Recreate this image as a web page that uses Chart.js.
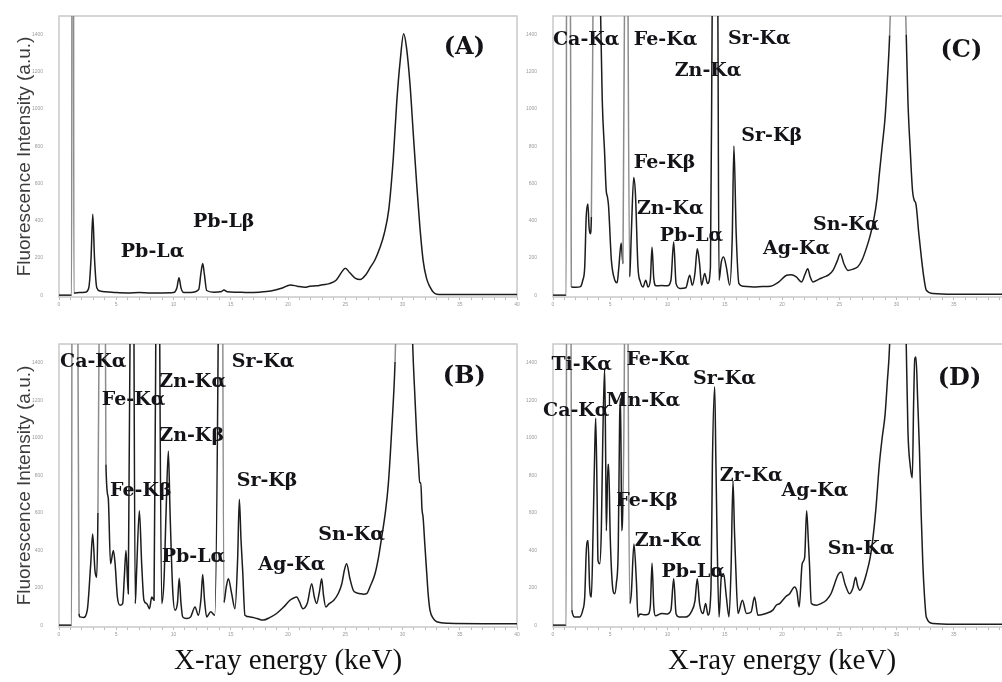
<!DOCTYPE html>
<html>
<head>
<meta charset="utf-8">
<script src="https://cdn.jsdelivr.net/npm/chart.js@4.4.1/dist/chart.umd.min.js"></script>
<style>
  html, body { margin: 0; padding: 0; background: #fff; width: 1002px; height: 682px; overflow: hidden; position: relative; }
  canvas { position: absolute; }
</style>
</head>
<body>
<canvas id="panelA" width="525" height="306" style="left:0;top:5px"></canvas>
<canvas id="panelB" width="525" height="349" style="left:0;top:333px"></canvas>
<canvas id="panelC" width="506" height="306" style="left:513px;top:5px"></canvas>
<canvas id="panelD" width="506" height="349" style="left:513px;top:333px"></canvas>
<script>
// spectra: [energy keV, intensity a.u.]; values above 1500 are off-scale peaks
const spectrumA = [
  [0, 0], [1.1, 0], [1.15, 3000], [1.25, 3000], [1.3, 12], [1.8, 14], [2.3, 16], [2.6, 40], [2.8, 200], [2.95, 435],
  [3.1, 200], [3.3, 40], [3.6, 22], [4.0, 18], [5.0, 14], [6.0, 12], [7.0, 14], [8.0, 12], [9.0, 12], [10.0, 14],
  [10.3, 40], [10.48, 94], [10.65, 40], [10.9, 14], [11.5, 14], [12.2, 30], [12.4, 120], [12.55, 170], [12.7, 110], [12.9, 25],
  [13.5, 16], [14.2, 20], [14.4, 28], [14.7, 18], [15.5, 16], [16.5, 14], [17.5, 16], [18.5, 22], [19.5, 38], [20.2, 55],
  [20.8, 48], [21.5, 42], [21.9, 48], [22.5, 50], [23.0, 56], [23.6, 62], [24.2, 80], [24.7, 125], [25.0, 145], [25.4, 120],
  [25.9, 90], [26.3, 84], [26.8, 110], [27.2, 150], [27.6, 190], [28.0, 250], [28.4, 330], [28.8, 460], [29.2, 740], [29.5, 1040],
  [29.8, 1260], [30.1, 1405], [30.35, 1330], [30.66, 1130], [30.95, 860], [31.24, 596], [31.5, 380], [31.8, 187], [32.1, 90], [32.4, 44],
  [32.7, 15], [33.0, 5], [34, 3], [36, 3], [38, 3], [40, 3]
];
const spectrumB = [
  [0, 0], [1.1, 0], [1.15, 3000], [1.55, 3000], [1.75, 60], [1.83, 44], [2.13, 41], [2.47, 80], [2.77, 327], [2.94, 486],
  [3.14, 292], [3.29, 256], [3.4, 600], [3.55, 2000], [3.7, 4000], [4.0, 2500], [4.1, 857], [4.3, 680], [4.5, 327], [4.75, 398],
  [4.9, 327], [5.1, 150], [5.33, 106], [5.56, 115], [5.7, 250], [5.85, 398], [6.05, 168], [6.2, 1500], [6.4, 5000], [6.55, 1500],
  [6.66, 115], [6.78, 292], [7.02, 610], [7.22, 327], [7.42, 133], [7.66, 115], [7.9, 88], [8.1, 150], [8.3, 133], [8.45, 1500],
  [8.63, 4500], [8.8, 1500], [8.97, 115], [9.17, 238], [9.35, 600], [9.55, 928], [9.7, 600], [9.93, 186], [10.13, 80], [10.35, 120],
  [10.5, 250], [10.65, 120], [10.8, 44], [11.15, 35], [11.5, 44], [11.88, 97], [12.17, 53], [12.4, 140], [12.55, 270], [12.7, 140],
  [12.9, 44], [13.25, 71], [13.6, 53], [13.9, 1500], [14.15, 4500], [14.4, 120], [14.6, 200], [14.79, 247], [15.08, 168], [15.37, 88],
  [15.6, 350], [15.75, 671], [15.9, 450], [16.04, 292], [16.24, 53], [16.68, 44], [17.3, 35], [17.84, 27], [18.4, 40], [19.0, 62],
  [19.6, 95], [20.17, 133], [20.5, 145], [20.76, 150], [21.0, 125], [21.3, 88], [21.7, 120], [22.07, 221], [22.3, 150], [22.5, 115],
  [22.75, 180], [22.94, 247], [23.1, 160], [23.3, 97], [23.6, 115], [24.0, 133], [24.4, 170], [24.7, 221], [24.95, 300], [25.12, 327],
  [25.4, 250], [25.7, 186], [26.0, 172], [26.29, 168], [26.6, 165], [26.87, 168], [27.2, 210], [27.6, 274], [27.9, 360], [28.18, 468],
  [28.5, 600], [28.76, 751], [29.05, 1034], [29.35, 1405], [29.6, 2000], [30.1, 3000], [30.7, 2000], [30.89, 1500], [31.09, 1210], [31.25, 1000],
  [31.4, 857], [31.5, 760], [31.6, 760], [31.7, 620], [31.8, 574], [31.95, 430], [32.1, 292], [32.25, 160], [32.4, 80], [32.7, 35],
  [33.0, 18], [34, 10], [37, 8], [40, 8]
];
const spectrumC = [
  [0, 0], [1.15, 0], [1.2, 3000], [1.45, 3000], [1.6, 44], [2.0, 42], [2.4, 46], [2.6, 80], [2.77, 151], [2.9, 420],
  [3.05, 490], [3.15, 365], [3.26, 330], [3.35, 420], [3.5, 1600], [3.7, 3500], [4.0, 2500], [4.16, 1500], [4.3, 1050], [4.5, 774],
  [4.65, 560], [4.75, 530], [4.85, 480], [5.1, 187], [5.4, 80], [5.6, 66], [5.75, 150], [5.95, 280], [6.11, 169], [6.25, 1600],
  [6.4, 5000], [6.55, 1600], [6.7, 98], [6.84, 330], [7.05, 632], [7.2, 543], [7.42, 151], [7.63, 71], [7.86, 44], [8.1, 80],
  [8.3, 44], [8.5, 80], [8.65, 258], [8.8, 90], [9.0, 50], [9.5, 52], [10.0, 50], [10.3, 80], [10.54, 285], [10.75, 62],
  [11.1, 36], [11.6, 40], [11.94, 107], [12.17, 53], [12.4, 120], [12.6, 249], [12.8, 169], [12.98, 53], [13.25, 116], [13.5, 62],
  [13.75, 150], [13.9, 1500], [14.15, 4000], [14.4, 1500], [14.5, 80], [14.7, 178], [14.9, 205], [15.14, 151], [15.43, 53], [15.65, 300],
  [15.8, 801], [16.0, 329], [16.24, 62], [16.6, 48], [17.5, 44], [18.3, 46], [19.0, 48], [19.7, 70], [20.4, 107], [20.8, 110],
  [21.25, 98], [21.7, 71], [22.0, 110], [22.25, 142], [22.45, 100], [22.7, 71], [23.2, 85], [23.7, 98], [24.1, 110], [24.45, 133],
  [24.8, 180], [25.1, 222], [25.4, 170], [25.76, 133], [26.2, 140], [26.6, 151], [27.0, 190], [27.4, 258], [27.7, 320], [28.0, 400],
  [28.3, 520], [28.5, 650], [28.75, 800], [29.0, 952], [29.2, 1150], [29.4, 1397], [29.7, 2000], [30.2, 3000], [30.6, 2000], [30.85, 1400],
  [31.0, 1041], [31.2, 780], [31.4, 561], [31.55, 510], [31.7, 489], [31.95, 330], [32.2, 187], [32.4, 90], [32.6, 27], [33.2, 9],
  [35, 5], [40, 5]
];
const spectrumD = [
  [0, 0], [1.15, 0], [1.2, 3000], [1.5, 3000], [1.65, 80], [1.89, 44], [2.33, 44], [2.6, 80], [2.77, 150], [2.91, 398],
  [3.06, 451], [3.2, 203], [3.35, 150], [3.5, 500], [3.65, 950], [3.73, 1104], [3.85, 700], [3.93, 345], [4.08, 327], [4.22, 504],
  [4.35, 1000], [4.51, 1369], [4.6, 900], [4.66, 504], [4.8, 857], [4.86, 857], [5.0, 468], [5.24, 186], [5.39, 168], [5.53, 221],
  [5.7, 415], [5.82, 1100], [5.9, 1210], [6.0, 504], [6.11, 680], [6.25, 1600], [6.4, 5000], [6.55, 1600], [6.7, 115], [6.84, 168],
  [7.07, 433], [7.28, 238], [7.42, 44], [7.6, 60], [8.0, 55], [8.3, 58], [8.5, 100], [8.65, 330], [8.8, 100], [8.95, 50],
  [9.5, 62], [10.0, 60], [10.3, 80], [10.54, 247], [10.75, 60], [11.0, 44], [11.6, 44], [12.08, 71], [12.4, 130], [12.6, 247],
  [12.8, 115], [13.1, 62], [13.33, 115], [13.54, 53], [13.8, 200], [13.92, 857], [14.12, 1272], [14.22, 900], [14.32, 504], [14.5, 44],
  [14.7, 256], [14.9, 274], [15.14, 150], [15.37, 44], [15.55, 300], [15.72, 769], [15.85, 500], [15.95, 327], [16.16, 62], [16.54, 133],
  [16.9, 62], [17.3, 70], [17.6, 150], [17.9, 53], [18.6, 62], [19.2, 80], [19.5, 106], [19.8, 115], [20.3, 150], [20.67, 168],
  [21.1, 203], [21.3, 180], [21.5, 97], [21.76, 327], [21.98, 362], [22.15, 610], [22.3, 450], [22.4, 327], [22.56, 115], [23.0, 106],
  [23.4, 115], [23.87, 133], [24.3, 170], [24.6, 221], [24.9, 270], [25.18, 283], [25.5, 220], [25.9, 168], [26.2, 200], [26.43, 256],
  [26.6, 210], [26.8, 186], [27.1, 220], [27.37, 274], [27.7, 360], [27.95, 468], [28.2, 620], [28.5, 857], [28.75, 1000], [29.0, 1122],
  [29.2, 1300], [29.4, 1500], [29.8, 2500], [30.3, 3000], [30.7, 2000], [30.85, 1500], [31.0, 1034], [31.2, 850], [31.38, 786], [31.5, 1200],
  [31.6, 1422], [31.7, 1430], [31.85, 1200], [32.0, 945], [32.15, 600], [32.3, 327], [32.45, 150], [32.6, 44], [33.2, 9], [35, 5],
  [40, 5]
];

// peak tags: [text, keV at left edge, a.u. at vertical middle]
const tagsA = [['Pb-Lα', 5.4, 230], ['Pb-Lβ', 11.7, 391]];
const tagsB = [['Ca-Kα', 0.09, 1405], ['Sr-Kα', 15.08, 1405], ['Zn-Kα', 8.76, 1299], ['Fe-Kα', 3.73, 1202], ['Zn-Kβ', 8.76, 1007],
  ['Fe-Kβ', 4.45, 716], ['Sr-Kβ', 15.52, 769], ['Pb-Lα', 8.97, 362], ['Ag-Kα', 17.4, 323], ['Sn-Kα', 22.65, 483]];
const tagsC = [['Ca-Kα', 0.0, 1370], ['Fe-Kα', 7.05, 1370], ['Sr-Kα', 15.28, 1375], ['Zn-Kα', 10.63, 1206], ['Fe-Kβ', 7.05, 712],
  ['Sr-Kβ', 16.45, 854], ['Zn-Kα', 7.33, 465], ['Pb-Lα', 9.32, 320], ['Ag-Kα', 18.34, 249], ['Sn-Kα', 22.7, 374]];
const tagsD = [['Ti-Kα', -0.14, 1388], ['Fe-Kα', 6.41, 1414], ['Sr-Kα', 12.23, 1312], ['Mn-Kα', 4.66, 1193], ['Ca-Kα', -0.87, 1140],
  ['Zr-Kα', 14.56, 795], ['Ag-Kα', 19.95, 716], ['Fe-Kβ', 5.53, 663], ['Zn-Kα', 7.13, 446], ['Pb-Lα', 9.47, 283], ['Sn-Kα', 24.0, 407]];

const yTicks = [0, 200, 400, 600, 800, 1000, 1200, 1400];
const xTickLabels = [0, 5, 10, 15, 20, 25, 30, 35, 40];
const Y_MAX = 1500;

const lineColor = '#1c1c1c';
const offScaleColor = '#8c8c8c';
const frameColor = '#c9c9c9';
const tickColor = '#9a9a9a';

Chart.defaults.font.family = "'Liberation Sans', Arial, sans-serif";

const framePlugin = {
  id: 'frame',
  beforeDatasetsDraw(chart) {
    const { ctx, chartArea: a } = chart;
    ctx.save();
    ctx.strokeStyle = frameColor;
    ctx.lineWidth = 1.5;
    ctx.strokeRect(a.left, a.top, a.right - a.left, a.bottom - a.top);
    ctx.restore();
  },
};

const tagPlugin = {
  id: 'peakTags',
  afterDatasetsDraw(chart, args, opts) {
    const { ctx, scales: { x, y } } = chart;
    ctx.save();
    ctx.fillStyle = '#141418';
    ctx.textBaseline = 'middle';
    ctx.textAlign = 'left';
    ctx.font = "bold 19px 'DejaVu Serif'";
    (opts.tags || []).forEach(([t, e, v]) => ctx.fillText(t, x.getPixelForValue(e), y.getPixelForValue(v)));
    if (opts.panel) {
      const [t, e, v] = opts.panel;
      ctx.font = "bold 24px 'DejaVu Serif'";
      ctx.textAlign = 'center';
      ctx.fillText(t, x.getPixelForValue(e), y.getPixelForValue(v));
    }
    ctx.restore();
  },
};

function makePanel(id, spectrum, tags, panel, opt) {
  const ctx = document.getElementById(id);
  return new Chart(ctx, {
    type: 'line',
    data: {
      datasets: [{
        data: spectrum.map(([e, v]) => ({ x: e, y: v })),
        borderColor: lineColor,
        borderWidth: 1.5,
        pointRadius: 0,
        cubicInterpolationMode: 'monotone',
        segment: {
          borderColor: c => (c.p0.parsed.y > Y_MAX || c.p1.parsed.y > Y_MAX) ? offScaleColor : undefined,
        },
      }],
    },
    options: {
      responsive: false,
      devicePixelRatio: 1,
      animation: false,
      layout: { padding: { top: 10, right: 8, bottom: 0, left: 0 } },
      plugins: {
        legend: { display: false },
        tooltip: { enabled: false },
        peakTags: { tags, panel },
      },
      scales: {
        x: {
          type: 'linear',
          min: 0,
          max: 40,
          border: { display: false },
          grid: { drawOnChartArea: false, drawTicks: true, tickLength: 3, color: '#bdbdbd' },
          ticks: {
            stepSize: 1,
            autoSkip: false,
            maxRotation: 0,
            padding: 2,
            color: tickColor,
            font: { size: 5 },
            callback: v => xTickLabels.includes(v) ? String(v) : '',
          },
          title: {
            display: opt.xTitle,
            text: 'X-ray energy (keV)',
            color: '#111',
            font: { family: "'Liberation Serif', 'Times New Roman', serif", size: 29 },
            padding: { top: 0, bottom: 3 },
          },
          afterFit: s => { s.height = opt.xHeight; },
        },
        y: {
          min: -10,
          max: Y_MAX,
          border: { display: false },
          grid: { display: false },
          ticks: {
            stepSize: 200,
            includeBounds: false,
            padding: 8,
            color: tickColor,
            font: { size: 5 },
            callback: v => yTicks.includes(v) ? String(v) : '',
          },
          title: {
            display: opt.yTitle,
            text: 'Fluorescence Intensity (a.u.)',
            color: '#3c3c3c',
            font: { size: 19 },
            padding: { top: 13, bottom: 0 },
          },
          afterFit: s => { s.width = opt.yWidth; },
        },
      },
    },
    plugins: [framePlugin, tagPlugin],
  });
}

makePanel('panelA', spectrumA, tagsA, ['(A)', 35.4, 1329], { xTitle: false, yTitle: true, xHeight: 14, yWidth: 59 });
makePanel('panelB', spectrumB, tagsB, ['(B)', 35.4, 1326], { xTitle: true, yTitle: true, xHeight: 55, yWidth: 59 });
makePanel('panelC', spectrumC, tagsC, ['(C)', 35.67, 1313], { xTitle: false, yTitle: false, xHeight: 14, yWidth: 40 });
makePanel('panelD', spectrumD, tagsD, ['(D)', 35.5, 1317], { xTitle: true, yTitle: false, xHeight: 55, yWidth: 40 });
</script>
</body>
</html>
